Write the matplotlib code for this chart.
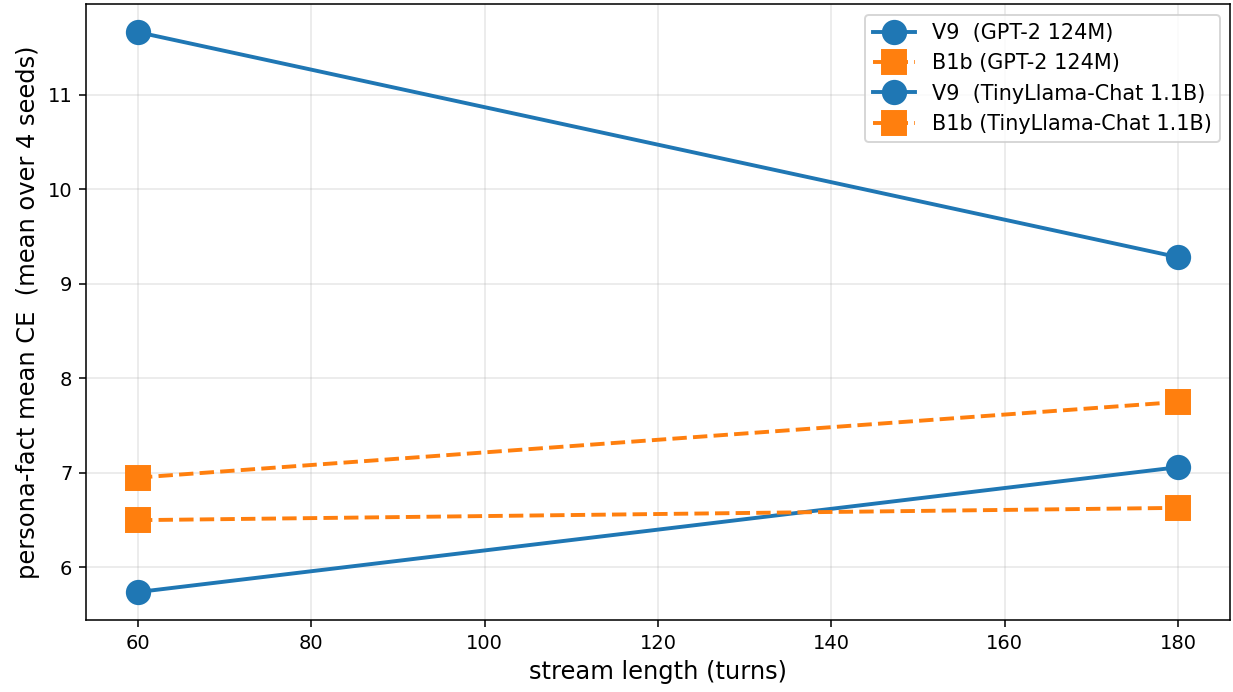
import numpy as np
import matplotlib.pyplot as plt

# stream length (turns)
turns = [60, 180]

# persona-fact mean CE, mean over 4 seeds
v9_gpt2 = [11.66, 9.28]
b1b_gpt2 = [6.95, 7.75]
v9_tiny = [5.74, 7.06]
b1b_tiny = [6.50, 6.63]

fig = plt.figure(figsize=(1233 / 140, 692 / 140), dpi=140)
ax = fig.add_axes([0.0697, 0.104, 0.928, 0.890])

ax.plot(turns, v9_gpt2, '-o', color='tab:blue', lw=2, ms=12, label='V9  (GPT-2 124M)')
ax.plot(turns, b1b_gpt2, '--s', color='tab:orange', lw=2, ms=12, label='B1b (GPT-2 124M)')
ax.plot(turns, v9_tiny, '-o', color='tab:blue', lw=2, ms=12, label='V9  (TinyLlama-Chat 1.1B)')
ax.plot(turns, b1b_tiny, '--s', color='tab:orange', lw=2, ms=12, label='B1b (TinyLlama-Chat 1.1B)')

ax.set_xlabel('stream length (turns)', fontsize=12.4)
ax.set_ylabel('persona-fact mean CE  (mean over 4 seeds)', fontsize=12.4)
ax.grid(alpha=0.3)
ax.legend(loc='upper right', fontsize=10.7)

fig.savefig('out.png', dpi=140)
